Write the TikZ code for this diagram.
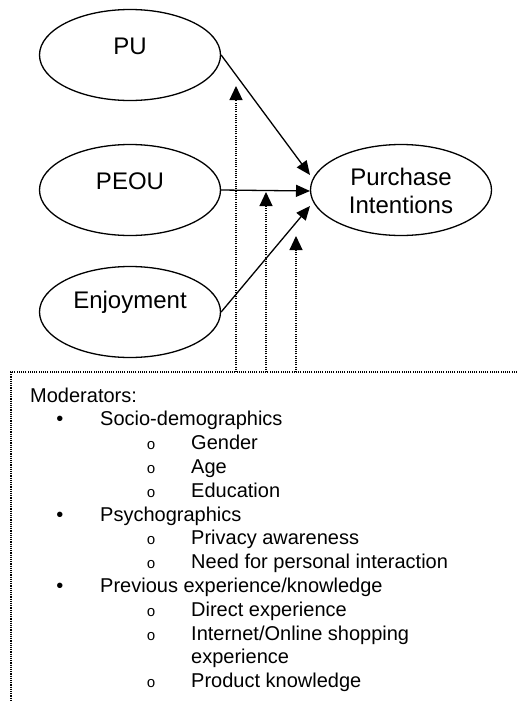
\documentclass[tikz,border=0pt]{standalone}
\usepackage{fontspec}
\setmainfont{Liberation Sans}
\newfontfamily\monof{Liberation Mono}
\usetikzlibrary{shapes.geometric,arrows.meta}
\begin{document}
\begin{tikzpicture}[x=1pt,y=-1pt,
  construct/.style={draw,ellipse,line width=1.3pt,minimum width=181pt,minimum height=91pt,inner sep=0pt},
  elabel/.style={inner sep=0pt,font=\fontsize{24}{28}\selectfont,align=center},
  path/.style={line width=1.3pt,-{Triangle[length=14pt,width=12pt]}},
  modpath/.style={line width=1.1pt,dash pattern=on 1.1pt off 1.1pt,-{Triangle[length=14pt,width=13pt]}},
  boxline/.style={line width=1.1pt,dash pattern=on 1.1pt off 1.1pt},
  item/.style={anchor=base west,inner sep=0pt,font=\fontsize{20}{24}\selectfont},
  bul/.style={anchor=base,inner sep=0pt,font=\fontsize{20}{24}\selectfont},
  sub/.style={anchor=base,inner sep=0pt,font=\monof\fontsize{15}{18}\selectfont}
]
\useasboundingbox (0,0) rectangle (517,702);

% constructs
\node[construct] (PU) at (130,55) {};
\node[elabel] (PUt) at (130,46) {PU};
\node[construct] (PEOU) at (130,190) {};
\node[elabel] (PEOUt) at (130,181) {PEOU};
\node[construct] (ENJ) at (130,312) {};
\node[elabel] (ENJt) at (130,302) {Enjoyment};
\node[construct] (PI) at (401,190) {};
\node[elabel] (PIt) at (401,191) {Purchase\\Intentions};

% main paths
\coordinate (pi1) at (310,175);
\coordinate (pi2) at (310,191);
\coordinate (pi3) at (310,206);
\draw[path] (PU.east) -- (pi1);
\draw[path] (PEOU.east) -- (pi2);
\draw[path] (ENJ.east) -- (pi3);

% moderator box (cropped)
\coordinate (bTR) at (517,372);
\coordinate (bTL) at (11,372);
\coordinate (bBL) at (11,702);
\draw[boxline] (bTR) -- (bTL) -- (bBL);

% moderator arrows
\coordinate (m1) at (236,372);
\coordinate (m2) at (266,372);
\coordinate (m3) at (296,372);
\coordinate (t1) at (236,86);
\coordinate (t2) at (266,192);
\coordinate (t3) at (296,236);
\draw[modpath] (m1) -- (t1);
\draw[modpath] (m2) -- (t2);
\draw[modpath] (m3) -- (t3);

% list
\node[item] (L0) at (30,402) {Moderators:};
\node[bul] (B1) at (60,425.8) {•};
\node[item] (L1) at (100,425.8) {Socio-demographics};
\node[sub] (S2) at (151,449.6) {o};
\node[item] (L2) at (191,449.6) {Gender};
\node[sub] (S3) at (151,473.4) {o};
\node[item] (L3) at (191,473.4) {Age};
\node[sub] (S4) at (151,497.2) {o};
\node[item] (L4) at (191,497.2) {Education};
\node[bul] (B5) at (60,521) {•};
\node[item] (L5) at (100,521) {Psychographics};
\node[sub] (S6) at (151,544.8) {o};
\node[item] (L6) at (191,544.8) {Privacy awareness};
\node[sub] (S7) at (151,568.6) {o};
\node[item] (L7) at (191,568.6) {Need for personal interaction};
\node[bul] (B8) at (60,592.4) {•};
\node[item] (L8) at (100,592.4) {Previous experience/knowledge};
\node[sub] (S9) at (151,616.2) {o};
\node[item] (L9) at (191,616.2) {Direct experience};
\node[sub] (S10) at (151,640) {o};
\node[item] (L10) at (191,640) {Internet/Online shopping};
\node[item] (L11) at (191,663.8) {experience};
\node[sub] (S12) at (151,687.6) {o};
\node[item] (L12) at (191,687.6) {Product knowledge};
\end{tikzpicture}
\end{document}
